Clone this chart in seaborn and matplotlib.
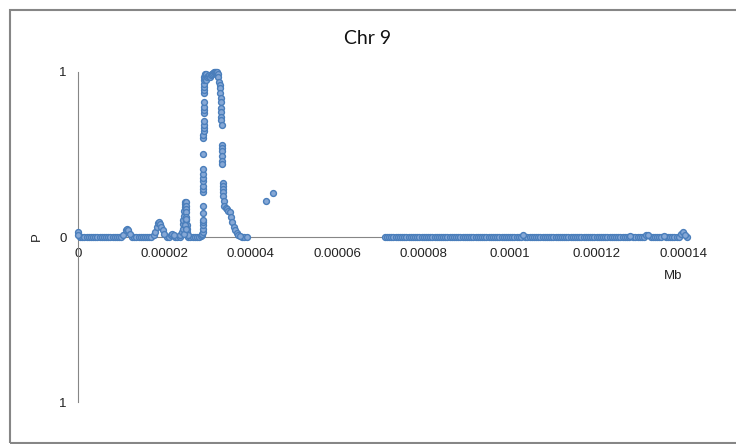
import matplotlib
matplotlib.use("Agg")
import matplotlib.pyplot as plt
import matplotlib.patches as mpatches
import pandas as pd
import seaborn as sns

zero_left_bp = [0.5, 1, 1.5, 2, 2.5, 3, 3.5, 4, 4.5, 5, 5.5, 6, 6.5, 7, 7.5, 8, 8.5, 9, 9.5, 10,
                12.5, 13, 13.5, 14, 14.5, 15, 15.5, 16, 16.5, 17,
                20.5, 21, 22.5, 23, 23.5, 25.5, 26, 26.5, 27, 27.5, 28, 38, 38.5, 39]

bump_bp = [0, 0, 10.5, 11.0, 11.3, 11.6, 12.0, 17.5, 17.9, 18.2, 18.5, 18.8, 19.0, 19.3, 19.6,
           20.0, 21.5, 21.8, 22.1]
bump_p = [0.03, 0.015, 0.01, 0.04, 0.05, 0.045, 0.02, 0.01, 0.03, 0.06, 0.085, 0.093, 0.08, 0.06,
          0.04, 0.02, 0.015, 0.02, 0.01]

peak25_bp = [23.7, 24.0, 24.2, 24.3, 24.4, 24.5, 24.6, 24.7, 24.75, 24.8, 24.9, 24.95, 25.0, 25.0,
             25.05, 25.1, 25.15, 25.2, 25.3, 25.4, 24.5, 24.7, 24.9, 25.0]
peak25_p = [0.01, 0.03, 0.05, 0.08, 0.1, 0.13, 0.16, 0.18, 0.2, 0.21, 0.21, 0.19, 0.17, 0.15,
            0.12, 0.1, 0.07, 0.05, 0.03, 0.01, 0.02, 0.07, 0.11, 0.05]

rise_bp = [28.4, 28.6, 28.8, 28.95, 28.95, 28.95, 28.95, 28.95, 29.0, 29.0, 29.0, 29.0, 29.0,
           29.0, 29.0, 29.0, 29.0, 29.0, 29.0, 29.0, 29.05, 29.05, 29.05, 29.05, 29.05, 29.05,
           29.05, 29.1, 29.1, 29.1, 29.1, 29.1, 29.15]
rise_p = [0.005, 0.01, 0.02, 0.03, 0.05, 0.07, 0.09, 0.1, 0.145, 0.19, 0.27, 0.29, 0.31, 0.34,
          0.36, 0.38, 0.41, 0.5, 0.6, 0.62, 0.64, 0.66, 0.68, 0.7, 0.75, 0.77, 0.79, 0.82, 0.87,
          0.89, 0.91, 0.93, 0.95]

top_bp = [29.2, 29.3, 29.4, 29.5, 29.6, 29.7, 29.9, 30.1, 30.3, 30.5, 30.7, 30.9, 31.1, 31.3,
          31.5, 31.7, 31.9, 32.1, 32.3]
top_p = [0.97, 0.98, 0.96, 0.99, 0.95, 0.985, 0.97, 0.975, 0.98, 0.97, 0.98, 0.985, 0.99, 0.995,
         1.0, 1.0, 1.0, 1.0, 0.99]

fall_bp = [32.5, 32.7, 32.8, 32.9, 32.95, 33.0, 33.0, 33.05, 33.1, 33.2, 33.2, 33.25, 33.3, 33.3,
           33.35, 33.35, 33.4, 33.4, 33.5, 33.5, 33.55, 33.6, 33.6, 33.7, 33.9, 34.2, 34.5, 34.8,
           35.1, 35.4, 35.7, 36.0, 36.3, 36.7, 37.1, 37.5]
fall_p = [0.97, 0.94, 0.92, 0.9, 0.87, 0.84, 0.82, 0.78, 0.76, 0.73, 0.71, 0.68, 0.56, 0.54,
          0.52, 0.49, 0.46, 0.44, 0.33, 0.31, 0.29, 0.27, 0.25, 0.22, 0.19, 0.175, 0.17, 0.16,
          0.15, 0.12, 0.09, 0.06, 0.04, 0.025, 0.015, 0.005]

lone_bp = [43.5, 45.1]
lone_p = [0.22, 0.265]

zero_right_bp = [71, 71.5, 72, 72.5, 73, 73.5, 74, 74.5, 75, 75.5,
                 76, 76.5, 77, 77.5, 78, 78.5, 79, 79.5, 80, 80.5,
                 81, 81.5, 82, 82.5, 83, 83.5, 84, 84.5, 85, 85.5,
                 86, 86.5, 87, 87.5, 88, 88.5, 89, 89.5, 90, 90.5,
                 91, 91.5, 92, 92.5, 93, 93.5, 94, 94.5, 95, 95.5,
                 96, 96.5, 97, 97.5, 98, 98.5, 99, 99.5, 100, 100.5,
                 101, 101.5, 102, 102.5, 103.5, 104, 104.5, 105, 105.5,
                 106, 106.5, 107, 107.5, 108, 108.5, 109, 109.5, 110, 110.5,
                 111, 111.5, 112, 112.5, 113, 113.5, 114, 114.5, 115, 115.5,
                 116, 116.5, 117, 117.5, 118, 118.5, 119, 119.5, 120, 120.5,
                 121, 121.5, 122, 122.5, 123, 123.5, 124, 124.5, 125, 125.5,
                 126, 126.5, 127, 127.5, 128.5, 129, 129.5, 130, 130.5,
                 131, 132.5, 133, 133.5, 134, 134.5, 135, 136, 136.5, 137, 137.5,
                 138, 138.5, 139, 141]

tail_bp = [103.0, 127.8, 131.5, 132.0, 135.5, 139.5, 140.0, 140.5]
tail_p = [0.012, 0.008, 0.01, 0.012, 0.006, 0.02, 0.028, 0.015]

x_ticks = [0, 0.00002, 0.00004, 0.00006, 0.00008, 0.0001, 0.00012, 0.00014]
x_tick_labels = ["0", "0.00002", "0.00004", "0.00006", "0.00008", "0.0001", "0.00012", "0.00014"]
y_ticks = [-1, 0, 1]
y_tick_labels = ["1", "0", "1"]

parts = [
    (zero_left_bp, [0.0] * len(zero_left_bp)),
    (bump_bp, bump_p),
    (peak25_bp, peak25_p),
    (rise_bp, rise_p),
    (top_bp, top_p),
    (fall_bp, fall_p),
    (lone_bp, lone_p),
    (zero_right_bp, [0.0] * len(zero_right_bp)),
    (tail_bp, tail_p),
]
df = pd.concat([pd.DataFrame({"bp": b, "p": p}) for b, p in parts], ignore_index=True)
df["Mb"] = df["bp"] / 1e6

sns.set_style("white")
plt.rcParams["font.family"] = ["Liberation Sans", "DejaVu Sans"]

axis_grey = "#868686"

fig = plt.figure(figsize=(7.36, 4.44), dpi=100)
ax = fig.add_axes([78 / 736, 42 / 444, 605 / 736, 330 / 444])

sns.scatterplot(
    data=df, x="Mb", y="p", ax=ax,
    s=18, color="#86A8D6", edgecolor="#4A7EBB", linewidth=1.0,
    legend=False, clip_on=False, zorder=3,
)

ax.set_xlim(0, 0.00014)
ax.set_ylim(-1, 1)
ax.set_xticks(x_ticks, x_tick_labels)
ax.set_yticks(y_ticks, y_tick_labels)
ax.set_xlabel("")
ax.set_ylabel("")

ax.spines["bottom"].set_position(("data", 0))
ax.spines["top"].set_visible(False)
ax.spines["right"].set_visible(False)
for side in ["bottom", "left"]:
    ax.spines[side].set_color(axis_grey)
    ax.spines[side].set_linewidth(0.8)

ax.tick_params(axis="both", direction="out", length=3, width=0.8, color=axis_grey,
               labelsize=9.5, labelcolor="#222222")
ax.tick_params(axis="x", pad=5)
ax.tick_params(axis="y", pad=5)

fig.text(368 / 736, 1 - 38 / 444, "Chr 9", ha="center", va="center",
         fontsize=14, family=["Lato", "DejaVu Sans"], color="#111111")
fig.text(673 / 736, 1 - 276 / 444, "Mb", ha="center", va="center", fontsize=9.5, color="#222222")
fig.text(37 / 736, 1 - 237 / 444, "P", ha="center", va="center", rotation=90,
         fontsize=9.5, color="#222222")

# chart-area frame
fig.patches.append(mpatches.Rectangle((10 / 736, 1.5 / 444), 1.0, 432 / 444, fill=False,
                                      edgecolor=axis_grey, linewidth=1.5,
                                      transform=fig.transFigure))

fig.savefig("out.png", dpi=100)
